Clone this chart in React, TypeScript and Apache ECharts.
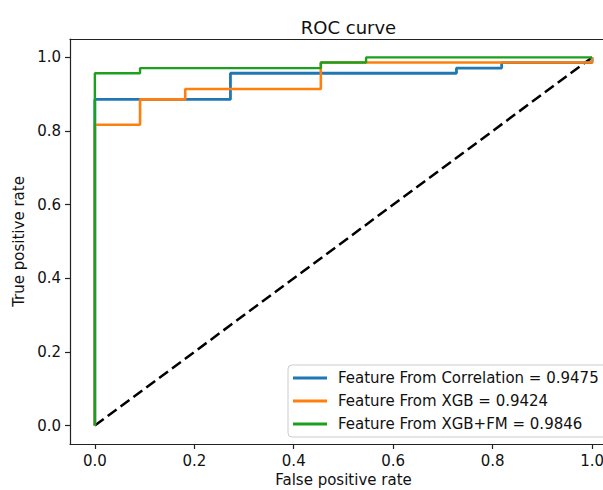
import React, { useEffect, useRef } from "react";
import * as echarts from "echarts";

const TITLE = "ROC curve";
const X_NAME = "False positive rate";
const Y_NAME = "True positive rate";
const TICKS = [0, 0.2, 0.4, 0.6, 0.8, 1.0];

const corrName = "Feature From Correlation = 0.9475";
const corrFpr = [0, 0, 0.2727, 0.2727, 0.7273, 0.7273, 0.8182, 0.8182, 1, 1];
const corrTpr = [0, 0.886, 0.886, 0.957, 0.957, 0.971, 0.971, 0.986, 0.986, 1];

const xgbName = "Feature From XGB = 0.9424";
const xgbFpr = [0, 0, 0.0909, 0.0909, 0.1818, 0.1818, 0.4545, 0.4545, 1, 1];
const xgbTpr = [0, 0.817, 0.817, 0.886, 0.886, 0.914, 0.914, 0.986, 0.986, 1];

const fmName = "Feature From XGB+FM = 0.9846";
const fmFpr = [0, 0, 0.0909, 0.0909, 0.4545, 0.4545, 0.5455, 0.5455, 1];
const fmTpr = [0, 0.957, 0.957, 0.971, 0.971, 0.986, 0.986, 1, 1];

const diagX = [0, 1];
const diagY = [0, 1];

const FONT = "DejaVu Sans";

function pairs(xs: number[], ys: number[]) {
  return xs.map((x, i) => [x, ys[i]]);
}

export default function App() {
  const ref = useRef<HTMLDivElement>(null);
  useEffect(() => {
    if (!ref.current) return;
    const chart = echarts.init(ref.current, null, { renderer: "svg" });
    const lineCol = { color: "#222", width: 1.2 };
    const labelStyle = {
      customValues: TICKS,
      formatter: (v: number) => v.toFixed(1),
      color: "#111",
      fontSize: 15,
      fontFamily: FONT,
      margin: 9,
    };
    chart.setOption({
      animation: false,
      backgroundColor: "#fff",
      title: {
        text: TITLE,
        left: 343.5,
        top: 13,
        textAlign: "center",
        textStyle: { fontSize: 18, fontWeight: "normal", color: "#111", fontFamily: FONT },
      },
      grid: {
        left: 70,
        right: 0,
        top: 39,
        bottom: 46,
        show: false,
        containLabel: false,
        outerBoundsMode: "none",
      },
      xAxis: [
        {
          type: "value",
          min: -0.05,
          max: 1.022,
          position: "bottom",
          splitLine: { show: false },
          axisLine: { show: true, onZero: false, lineStyle: lineCol },
          axisTick: { show: true, length: 5, customValues: TICKS, lineStyle: lineCol },
          axisLabel: labelStyle,
          name: X_NAME,
          nameLocation: "middle",
          nameGap: 28,
          nameTextStyle: {
            color: "#111",
            fontSize: 15,
            fontFamily: FONT,
            padding: [0, 0, 0, 14],
          },
        },
        {
          type: "value",
          min: -0.05,
          max: 1.022,
          position: "top",
          splitLine: { show: false },
          axisLine: { show: true, onZero: false, lineStyle: lineCol },
          axisTick: { show: false },
          axisLabel: { show: false },
        },
      ],
      yAxis: {
        type: "value",
        min: -0.05,
        max: 1.05,
        splitLine: { show: false },
        axisLine: { show: true, onZero: false, lineStyle: lineCol },
        axisTick: { show: true, length: 5, customValues: TICKS, lineStyle: lineCol },
        axisLabel: labelStyle,
        name: Y_NAME,
        nameLocation: "middle",
        nameGap: 34,
        nameTextStyle: { color: "#111", fontSize: 15, fontFamily: FONT },
      },
      legend: {
        orient: "vertical",
        left: 288,
        top: 365,
        data: [corrName, xgbName, fmName],
        icon: "rect",
        itemWidth: 34,
        itemHeight: 3,
        itemGap: 5,
        padding: [4, 20, 4, 5],
        backgroundColor: "#fff",
        borderColor: "#ccc",
        borderWidth: 1,
        borderRadius: 4,
        textStyle: {
          fontSize: 15,
          fontFamily: FONT,
          color: "#111",
          lineHeight: 18,
          padding: [0, 0, 0, 6],
        },
      },
      series: [
        {
          type: "line",
          data: pairs(diagX, diagY),
          symbol: "none",
          silent: true,
          lineStyle: { color: "#000", width: 2.5, type: [11, 5] },
          z: 1,
        },
        {
          name: corrName,
          type: "line",
          data: pairs(corrFpr, corrTpr),
          symbol: "none",
          lineStyle: { color: "#1f77b4", width: 2.8 },
          itemStyle: { color: "#1f77b4" },
          z: 2,
        },
        {
          name: xgbName,
          type: "line",
          data: pairs(xgbFpr, xgbTpr),
          symbol: "none",
          lineStyle: { color: "#ff7f0e", width: 2.6 },
          itemStyle: { color: "#ff7f0e" },
          z: 3,
        },
        {
          name: fmName,
          type: "line",
          data: pairs(fmFpr, fmTpr),
          symbol: "none",
          lineStyle: { color: "#1ca01f", width: 2.4 },
          itemStyle: { color: "#1ca01f" },
          z: 4,
        },
      ],
    });
    return () => chart.dispose();
  }, []);
  return (
    <div
      ref={ref}
      style={{ position: "absolute", left: 0, top: 0, width: 603, height: 490 }}
    />
  );
}
